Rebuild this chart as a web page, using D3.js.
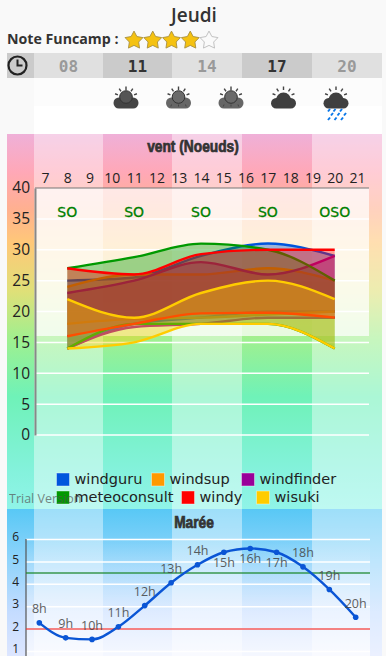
<!DOCTYPE html>
<html><head><meta charset="utf-8">
<script src="https://cdn.jsdelivr.net/npm/d3@7/dist/d3.min.js"></script>
<style>html,body{margin:0;padding:0;background:#f9f9f9;overflow:hidden}svg{display:block}text{font-family:"Open Sans",sans-serif}</style>
</head><body><div id="c"></div>
<script>
const dayTitle="Jeudi", noteLabel="Note Funcamp :", noteValue=4, noteMax=5;
const headerHours=["08","11","14","17","20"];
const hourTicks=d3.range(7,22);
const windHours=[8,11,14,17,20];
const directions=["SO","SO","SO","SO","OSO"];
const windTicks=[0,5,10,15,20,25,30,35,40];
const windguruHi=[25,25.5,29,31,29], windguruLo=[14,18,19,20,20];
const windsupHi=[24,26,26,27,25], windsupLo=[18,18.8,19,19.5,20];
const windfinderHi=[23,25,28,26,29], windfinderLo=[14,17.5,18,19,19];
const meteoconsultHi=[27,28.8,31,30,25], meteoconsultLo=[14,18,18,18,14];
const windyHi=[27,26,29.3,30,30], windyLo=[16,18,19.7,19.8,19];
const wisukiHi=[22,19,23,25,22], wisukiLo=[14,15,18,18,14];
const seriesNames=["windguru","windsup","windfinder","meteoconsult","windy","wisuki"];
const seriesColors=["#0055dd","#ff9900","#990099","#009900","#ff0000","#ffcc00"];
const tideHours=[8,9,10,11,12,13,14,15,16,17,18,19,20];
const tideValues=[2.28,1.61,1.54,2.1,3.05,4.07,4.87,5.43,5.6,5.43,4.78,3.77,2.53];
const tideTicks=[1,2,3,4,5,6];
const tideLabelsBelow=[15,16,17];
const tideHigh=4.5, tideLow=2;
const weather=["sun","sunDim","sunDim","cloud","rain"];

const W=386,H=656;
const svg=d3.select("#c").append("svg").attr("width",W).attr("height",H);
const defs=svg.append("defs");
function grad(id,stops){const g=defs.append("linearGradient").attr("id",id).attr("x1",0).attr("y1",0).attr("x2",0).attr("y2",1);
 stops.forEach(s=>g.append("stop").attr("offset",s[0]).attr("stop-color",s[1]).attr("stop-opacity",s[2]==null?1:s[2]));}
grad("gWind",[[0,"#efb0d8"],[.1,"#ffa8b8"],[.2,"#ffb090"],[.29,"#ffc878"],[.42,"#dfe078"],[.55,"#9ef090"],[.7,"#6ff2b8"],[.9,"#84f2dc"],[1,"#90f4e8"]]);
grad("gTide",[[0,"#58c8f5"],[.35,"#90d4fb"],[.7,"#c4dcff"],[1,"#dde6ff"]]);
grad("gTidePlot",[[0,"#fff",0],[1,"#fff",.7]]);

const bandEdges=[34,103,172,242,312,382];
const bands=headerHours.map((h,i)=>({h,x0:bandEdges[i],x1:bandEdges[i+1],light:i%2==0}));
svg.append("rect").attr("x",7).attr("y",53).attr("width",27).attr("height",25).attr("fill","#cbcbcb");
svg.selectAll(".hb").data(bands).join("rect").attr("x",d=>d.x0).attr("y",53).attr("width",d=>d.x1-d.x0).attr("height",25).attr("fill",d=>d.light?"#e0e0e0":"#cbcbcb");
svg.append("rect").attr("x",34).attr("y",78).attr("width",348).attr("height",28).attr("fill","#fcfcfc");
svg.append("rect").attr("x",34).attr("y",106).attr("width",348).attr("height",28).attr("fill","#ffffff");
svg.selectAll(".ht").data(bands).join("text").attr("x",d=>(d.x0+d.x1)/2).attr("y",71.5).attr("text-anchor","middle")
 .style("font-family","'DejaVu Sans Mono',monospace").style("font-weight",700).style("font-size","16px")
 .attr("fill",d=>d.light?"#999":"#333").text(d=>d.h);
const ck=svg.append("g").attr("transform","translate(17.5,65.5)");
ck.append("circle").attr("r",9).attr("fill","none").attr("stroke","#222").attr("stroke-width",2.2);
ck.append("path").attr("d","M0,-6V0H5").attr("fill","none").attr("stroke","#222").attr("stroke-width",2);
svg.append("text").attr("x",194).attr("y",22).attr("text-anchor","middle").attr("fill","#333").style("font-size","19px").style("font-weight",600).text(dayTitle);
svg.append("text").attr("x",7).attr("y",44).attr("fill","#333").style("font-size","14.2px").style("font-weight",700).text(noteLabel);
const starX=d3.scaleLinear().domain([0,noteMax-1]).range([134,209]);
const starPts=d3.range(10).map(i=>[i*Math.PI/5,i%2?4.9:9.4]);
const star=d3.lineRadial().curve(d3.curveLinearClosed)(starPts);
svg.selectAll(".st").data(d3.range(noteMax)).join("path").attr("d",star).attr("transform",d=>`translate(${starX(d)},40.5)`)
 .attr("fill",d=>d<noteValue?"#f5c211":"#fafafa").attr("stroke",d=>d<noteValue?"#a89040":"#bbb").attr("stroke-width",.9).attr("stroke-linejoin","round");

const iconX=d3.scaleLinear().domain([0,4]).range([126,336]);
const ic=svg.selectAll(".ic").data(weather).join("g").attr("transform",(d,i)=>`translate(${iconX(i)},0)`);
ic.each(function(d){
 const g=d3.select(this), col=d=="sunDim"?"#666":"#444";
 [-72,-36,0,36,72].forEach(a=>{const r=a*Math.PI/180;
  g.append("line").attr("x1",Math.sin(r)*8.5).attr("x2",Math.sin(r)*11.5).attr("y1",97-Math.cos(r)*7).attr("y2",97-Math.cos(r)*10.5).attr("stroke","#444").attr("stroke-width",1.4);});
 if(d=="cloud"||d=="rain"){
  g.append("rect").attr("x",-12.5).attr("y",98).attr("width",25).attr("height",10.5).attr("rx",5.2).attr("fill","#3f3f3f");
  g.append("circle").attr("cy",100).attr("r",7.5).attr("fill","#3f3f3f");
 } else {
  g.append("rect").attr("x",-12.5).attr("y",97.5).attr("width",25).attr("height",11).attr("rx",5.4).attr("fill",col);
  g.append("circle").attr("cy",97).attr("r",6.3).attr("fill",col=="#666"?"#6a6a6a":"#555").attr("stroke","#333").attr("stroke-width",1);
  if(d=="sunDim")[-7,0,7].forEach(x=>g.append("line").attr("x1",x).attr("x2",x*1.1).attr("y1",104.5).attr("y2",106.5).attr("stroke","#444"));
 }
 if(d=="rain"){
  [[-8,119],[-1.5,119],[5,119],[-5,114.5],[1.5,114.5],[8,114.5],[-2.5,110.5],[4,110.5],[-8,110.5]].forEach(p=>g.append("line").attr("x1",p[0]).attr("y1",p[1]+1).attr("x2",p[0]+2).attr("y2",p[1]-1.5).attr("stroke","#0b78e8").attr("stroke-width",2));
 }
});

svg.append("rect").attr("x",7).attr("y",134).attr("width",375).attr("height",375).attr("fill","url(#gWind)");
svg.selectAll(".lb").data(bands.filter(b=>b.light)).join("rect").attr("x",d=>d.x0).attr("y",134).attr("width",d=>d.x1-d.x0).attr("height",375).attr("fill","#fff").attr("opacity",.42);
const xW=d3.scaleLinear().domain([7,21]).range([45,357]);
const yW=d3.scaleLinear().domain([0,40]).range([435,188]);
const plotL=35,plotR=369;
svg.append("rect").attr("x",plotL).attr("y",188).attr("width",plotR-plotL).attr("height",148).attr("fill","#fff").attr("opacity",.72);
svg.append("g").selectAll("line").data(windTicks.filter(t=>t<40)).join("line").attr("x1",plotL).attr("x2",plotR).attr("y1",d=>yW(d)).attr("y2",d=>yW(d)).attr("stroke","#fff").attr("stroke-width",1.5);
const ay=svg.append("g").attr("transform",`translate(${plotL},0)`).call(d3.axisLeft(yW).tickValues(windTicks).tickSize(0).tickPadding(5));
ay.select(".domain").attr("stroke","#888").attr("stroke-width",2);
ay.selectAll("text").attr("fill","#222").style("font-size","15.5px").style("font-family","'Open Sans',sans-serif");
const ax=svg.append("g").attr("transform",`translate(0,188)`).call(d3.axisTop(xW).tickValues(hourTicks).tickFormat(d3.format("d")).tickSize(0).tickPadding(5));
ax.select(".domain").remove();
ax.selectAll("text").attr("fill","#222").style("font-size","14px").style("font-family","'Open Sans',sans-serif");
svg.append("line").attr("x1",plotL).attr("x2",plotR).attr("y1",yW(40)).attr("y2",yW(40)).attr("stroke","#777").attr("stroke-width",1.2);
svg.selectAll(".dir").data(directions).join("text").attr("x",(d,i)=>xW(windHours[i])).attr("y",216.5).attr("text-anchor","middle").attr("fill","#008000").attr("stroke","#008000").attr("stroke-width",.3).style("font-family","'DejaVu Sans',sans-serif").style("font-size","14px").text(d=>d);
function condTitle(txt,x,y){svg.append("text").attr("transform",`translate(${x},${y}) scale(.86,1.05)`).attr("text-anchor","middle").attr("fill","#333").attr("stroke","#333").attr("stroke-width",.7).style("font-family","'Liberation Sans Narrow','Liberation Sans',sans-serif").style("font-weight",700).style("font-size","16px").text(txt);}
condTitle("vent (Noeuds)",193,152);
const hiSets=[windguruHi,windsupHi,windfinderHi,meteoconsultHi,windyHi,wisukiHi];
const loSets=[windguruLo,windsupLo,windfinderLo,meteoconsultLo,windyLo,wisukiLo];
const curve=d3.curveMonotoneX;
const area=d3.area().x((d,i)=>xW(windHours[i])).y0(d=>yW(d[1])).y1(d=>yW(d[0])).curve(curve);
const lineW=d3.line().x((d,i)=>xW(windHours[i])).y(d=>yW(d)).curve(curve);
seriesNames.forEach((n,k)=>{
 const g=svg.append("g");
 const pairs=hiSets[k].map((h,i)=>[h,loSets[k][i]]);
 g.append("path").attr("d",area(pairs)).attr("fill",seriesColors[k]).attr("fill-opacity",.38);
 [hiSets[k],loSets[k]].forEach(s=>g.append("path").attr("d",lineW(s)).attr("fill","none").attr("stroke",seriesColors[k]).attr("stroke-width",2.4));
});
const legendX=[[56.5,151.5,241.5],[56.5,181.5,256.5]];
const legendY=[473,491];
seriesNames.forEach((n,k)=>{
 const r=k<3?0:1,c=k%3,x=legendX[r][c],y=legendY[r];
 svg.append("rect").attr("x",x).attr("y",y).attr("width",13).attr("height",13).attr("fill",seriesColors[k]).attr("stroke","#fff").attr("stroke-opacity",.4);
 svg.append("text").attr("x",x+18).attr("y",y+10.5).attr("fill","#222").style("font-size","14.5px").style("font-family","'DejaVu Sans',sans-serif").text(n);
});
svg.append("text").attr("x",9).attr("y",503).attr("fill","#555").attr("opacity",.7).style("font-size","12.5px").text("Trial Version");

svg.append("rect").attr("x",7).attr("y",509).attr("width",375).attr("height",147).attr("fill","url(#gTide)");
svg.selectAll(".tb").data(bands.filter(b=>b.light)).join("rect").attr("x",d=>d.x0).attr("y",509).attr("width",d=>d.x1-d.x0).attr("height",147).attr("fill","#fff").attr("opacity",.42);
const xT=d3.scaleLinear().domain([8,20]).range([39.3,355.7]);
const yT=d3.scaleLinear().domain([1,6]).range([651.5,539.5]);
svg.append("rect").attr("x",26).attr("y",539).attr("width",344).attr("height",117).attr("fill","url(#gTidePlot)");
svg.append("g").selectAll("line").data(tideTicks).join("line").attr("x1",26).attr("x2",370).attr("y1",d=>yT(d)).attr("y2",d=>yT(d)).attr("stroke","#fff").attr("stroke-width",1.5);
const ayT=svg.append("g").attr("transform","translate(26,0)").call(d3.axisLeft(yT).tickValues(tideTicks).tickFormat(d3.format("d")).tickSize(0).tickPadding(7));
ayT.select(".domain").remove();
ayT.selectAll("text").attr("fill","#222").style("font-size","12px").style("font-family","'Open Sans',sans-serif").attr("dy","0.1em");
svg.append("line").attr("x1",26).attr("x2",26).attr("y1",539).attr("y2",656).attr("stroke","#555").attr("stroke-width",1.2);
svg.append("line").attr("x1",26).attr("x2",370).attr("y1",yT(tideHigh)).attr("y2",yT(tideHigh)).attr("stroke","#1f8a2e").attr("stroke-width",1.5).attr("opacity",.85);
svg.append("line").attr("x1",26).attr("x2",370).attr("y1",yT(tideLow)).attr("y2",yT(tideLow)).attr("stroke","#f03030").attr("stroke-width",1.5).attr("opacity",.8);
condTitle("Marée",194,528);
const tLine=d3.line().x((d,i)=>xT(tideHours[i])).y(d=>yT(d)).curve(d3.curveMonotoneX);
svg.append("path").attr("d",tLine(tideValues)).attr("fill","none").attr("stroke","#0a55d5").attr("stroke-width",2.4);
svg.selectAll(".tp").data(tideValues).join("circle").attr("cx",(d,i)=>xT(tideHours[i])).attr("cy",d=>yT(d)).attr("r",2.8).attr("fill","#0a55d5");
svg.selectAll(".tl").data(tideValues).join("text").attr("x",(d,i)=>xT(tideHours[i])).attr("y",(d,i)=>yT(d)+(tideLabelsBelow.includes(tideHours[i])?14.5:-9.5)).attr("text-anchor","middle").attr("fill","#444").attr("opacity",.85).style("font-size","12.5px").text((d,i)=>tideHours[i]+"h");
</script></body></html>
